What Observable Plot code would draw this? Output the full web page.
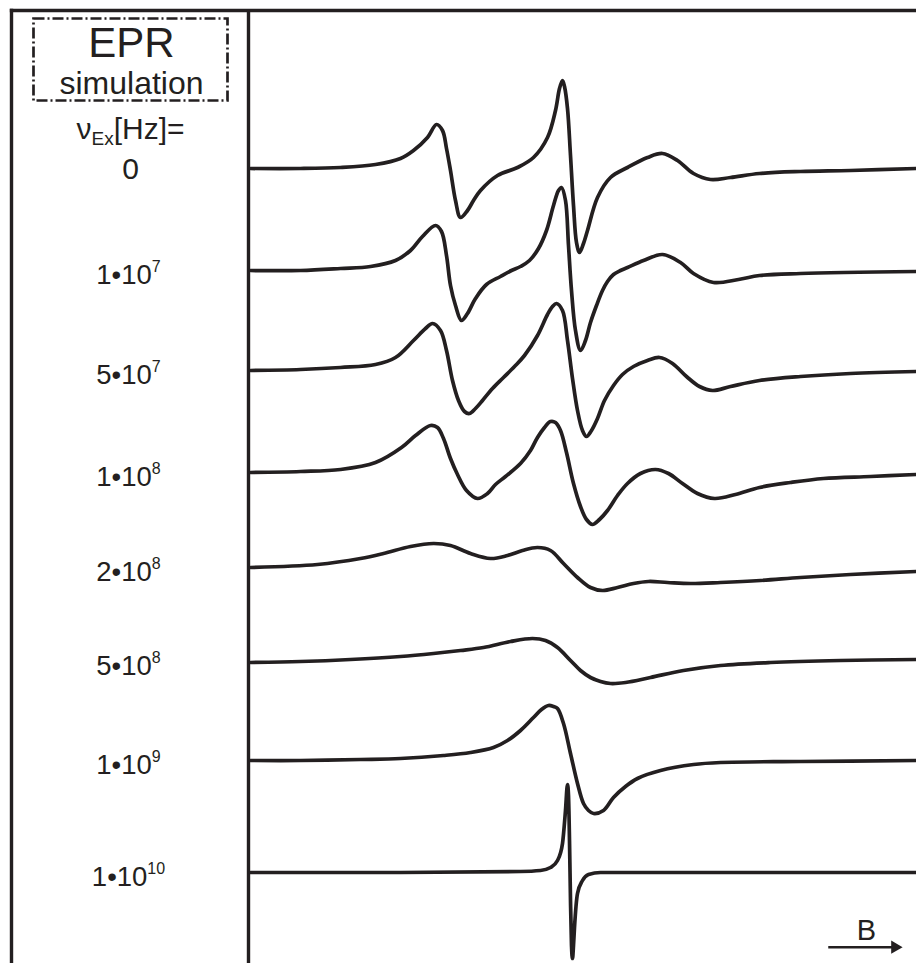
<!DOCTYPE html>
<html>
<head>
<meta charset="utf-8">
<script src="https://cdn.jsdelivr.net/npm/d3@7"></script>
<script src="https://cdn.jsdelivr.net/npm/@observablehq/plot@0.6"></script>
<style>
  html, body { margin: 0; padding: 0; background: #fff; }
  #chart svg { display: block; }
</style>
</head>
<body>
<div id="chart"></div>
<script>
// Exchange frequencies ν_Ex [Hz] of the simulated EPR spectra (top to bottom)
const rates = [0, 1e7, 5e7, 1e8, 2e8, 5e8, 1e9, 1e10];
const rateLabels = ["0", "1•10^{7}", "5•10^{7}", "1•10^{8}", "2•10^{8}", "5•10^{8}", "1•10^{9}", "1•10^{10}"];
// vertical offset (baseline level) of each stacked trace, arbitrary units
const levels = [795, 693, 593, 491, 396, 302, 203, 91];

// Traces: [field B (arb. units), derivative signal (arb. units)]
const spec0 = [[2,0],[52,0],[92,1],[127,4],[152,10],[165,18],[179,31],[188,44],[194,38],[198,20],[202,-2],[207,-32],[212,-49],[219,-42],[225,-32],[232,-22],[249,-7],[269,1],[285,11],[299,31],[307,58],[311,80],[314,88],[316,82],[319,60],[322,13],[325,-37],[328,-74],[331,-84],[335,-75],[339,-62],[349,-29],[362,-9],[379,1],[399,11],[414,15],[429,8],[445,-5],[462,-11],[482,-9],[511,-5],[552,-3],[602,-2],[668,0]];
const spec1 = [[2,0],[52,0],[92,2],[122,4],[147,10],[162,20],[174,34],[187,45],[193,39],[198,15],[202,-15],[207,-35],[213,-50],[219,-43],[227,-28],[238,-14],[252,-6],[263,0],[272,4],[281,10],[290,22],[298,40],[305,65],[310,80],[313,83],[317,70],[320,25],[323,-20],[327,-60],[332,-80],[337,-70],[342,-52],[348,-35],[354,-20],[359,-11],[365,-4],[372,0],[379,3],[395,10],[414,16],[432,8],[445,-3],[465,-12],[490,-9],[511,-5],[552,-3],[668,-1]];
const spec2 = [[2,0],[52,1],[92,3],[127,6],[147,13],[165,30],[177,42],[184,47],[192,40],[198,20],[204,-10],[210,-30],[216,-41],[221,-43],[227,-38],[234,-30],[244,-18],[255,-7],[266,4],[276,15],[289,35],[299,56],[304,64],[308,67],[314,60],[319,30],[324,-8],[329,-40],[334,-60],[338,-66],[343,-60],[349,-48],[356,-30],[365,-15],[374,-4],[385,4],[399,10],[411,13],[424,7],[438,-6],[451,-16],[464,-20],[482,-16],[511,-10],[552,-6],[602,-3],[668,-1]];
const spec3 = [[2,0],[52,1],[92,3],[127,10],[153,25],[167,37],[182,47],[189,45],[195,34],[202,14],[209,-2],[218,-18],[229,-26],[239,-21],[247,-12],[257,-4],[272,9],[282,22],[289,35],[296,45],[302,51],[307,50],[312,42],[318,20],[325,-11],[332,-34],[338,-47],[344,-52],[351,-47],[359,-38],[369,-23],[379,-11],[392,-1],[407,3],[420,-1],[434,-11],[449,-21],[466,-26],[487,-22],[511,-15],[542,-10],[575,-6],[622,-4],[668,-2]];
const spec4 = [[2,0],[69,3],[112,9],[135,14],[162,21],[185,24],[202,22],[222,14],[242,9],[259,12],[274,17],[289,20],[302,17],[315,4],[329,-10],[342,-20],[354,-23],[369,-20],[385,-16],[400,-14],[419,-15],[442,-16],[472,-15],[512,-13],[552,-10],[602,-7],[668,-4]];
const spec5 = [[2,-1],[52,0],[102,2],[152,5],[185,8],[212,11],[235,14],[262,20],[284,23],[297,21],[309,14],[322,1],[332,-9],[342,-16],[352,-20],[362,-22],[377,-21],[402,-16],[435,-9],[472,-4],[522,-1],[592,1],[668,2]];
const spec6 = [[2,0],[52,0],[112,1],[152,2],[195,5],[222,8],[245,13],[259,20],[272,30],[285,43],[293,51],[300,55],[305,54],[309,52],[315,37],[322,7],[329,-23],[335,-43],[340,-50],[345,-53],[355,-50],[365,-37],[377,-26],[389,-18],[412,-10],[445,-4],[472,-2],[552,-1],[668,0]];
const spec7 = [[2,0],[152,0],[272,1],[292,2],[302,5],[309,12],[314,29],[317,62],[319,88],[320,77],[321,32],[322,-28],[323,-73],[324,-86],[325,-73],[326,-55],[329,-21],[334,-8],[340,-2],[352,0],[472,0],[668,0]];
const spectra = [spec0, spec1, spec2, spec3, spec4, spec5, spec6, spec7];

const boxTitle = ["EPR"];
const boxSubtitle = ["simulation"];
const rateHeader = ["ν_{Ex}[Hz]="];
const fieldLabel = ["B"];

const ink = "#231f20";
const rows = spectra.flatMap((s, i) => s.map(([b, a]) => ({i, b, y: levels[i] + a})));
const idx = d3.range(rates.length);
const broad = d => d.i < spectra.length - 1;   // broad lines: smooth spline
const sharp = d => d.i === spectra.length - 1; // narrow spike: monotone

const chart = Plot.plot({
  width: 916,
  height: 963,
  marginTop: 10,
  marginRight: 0,
  marginBottom: 0,
  marginLeft: 11,
  x: {domain: [0, 668], range: [248, 916], axis: null},
  y: {domain: [0, 953], axis: null},
  style: {fontFamily: "'Liberation Sans', Arial, Helvetica, sans-serif", color: ink, background: "#fff", overflow: "visible"},
  marks: [
    Plot.frame({anchor: "top", stroke: ink, strokeWidth: 3.4}),
    Plot.frame({anchor: "left", stroke: ink, strokeWidth: 3.4}),
    Plot.ruleX([0], {stroke: ink, strokeWidth: 3.4}),
    Plot.frame({insetLeft: 22, insetTop: 8, insetRight: 689, insetBottom: 863, stroke: ink, strokeWidth: 2.7, strokeDasharray: "11,3,2,3"}),
    Plot.line(rows, {filter: broad, x: "b", y: "y", z: "i", curve: "catmull-rom", stroke: ink, strokeWidth: 3.7, strokeLinejoin: "round"}),
    Plot.line(rows, {filter: sharp, x: "b", y: "y", z: "i", curve: "monotone-x", stroke: ink, strokeWidth: 3.7, strokeLinejoin: "round"}),
    Plot.text(boxTitle, {frameAnchor: "top-left", textAnchor: "middle", dx: 120, dy: 46, lineAnchor: "bottom", fontSize: 42, fill: ink}),
    Plot.text(boxSubtitle, {frameAnchor: "top-left", textAnchor: "middle", dx: 120, dy: 83, lineAnchor: "bottom", fontSize: 32, fill: ink}),
    Plot.text(rateHeader, {frameAnchor: "top-left", textAnchor: "middle", dx: 119, dy: 128, lineAnchor: "bottom", fontSize: 30, fill: ink}),
    Plot.text(idx, {filter: i => rates[i] === 0, y: i => levels[i], text: i => rateLabels[i], frameAnchor: "left", textAnchor: "middle", dx: 119, dy: 10, lineAnchor: "bottom", fontSize: 30, fill: ink}),
    Plot.text(idx, {filter: i => rates[i] !== 0, y: i => levels[i], text: i => rateLabels[i], frameAnchor: "left", textAnchor: "middle", dx: 117, dy: 13, lineAnchor: "bottom", fontSize: 27.5, fill: ink}),
    Plot.text(fieldLabel, {frameAnchor: "bottom-right", textAnchor: "middle", dx: -50, dy: -24, lineAnchor: "bottom", fontSize: 29, fill: ink}),
    Plot.frame({anchor: "bottom", insetBottom: 16.3, insetLeft: 818, insetRight: 24, stroke: ink, strokeWidth: 2.5}),
    Plot.dot([null], {frameAnchor: "bottom-right", dx: -21.5, dy: -16.3, symbol: "triangle", rotate: 90, r: 4.9, fill: ink, stroke: "none"})
  ]
});

// typeset ^{...} superscripts and _{...} subscripts as tspans
const NS = "http://www.w3.org/2000/svg";
const SUP = {size: 16, shift: -12};
const SUB = {size: 19, shift: 6};
chart.querySelectorAll("text").forEach(t => {
  const src = t.textContent;
  if (!/[\^_]\{/.test(src)) return;
  const parts = src.split(/([\^_]\{[^}]*\})/).filter(s => s !== "");
  while (t.firstChild) t.removeChild(t.firstChild);
  let offset = 0;
  for (const p of parts) {
    const ts = document.createElementNS(NS, "tspan");
    let target = 0;
    if (p.startsWith("^{")) { ts.textContent = p.slice(2, -1); ts.setAttribute("font-size", SUP.size); target = SUP.shift; }
    else if (p.startsWith("_{")) { ts.textContent = p.slice(2, -1); ts.setAttribute("font-size", SUB.size); target = SUB.shift; }
    else ts.textContent = p;
    if (target !== offset) { ts.setAttribute("dy", target - offset); offset = target; }
    t.appendChild(ts);
  }
});

document.getElementById("chart").appendChild(chart);
</script>
</body>
</html>
